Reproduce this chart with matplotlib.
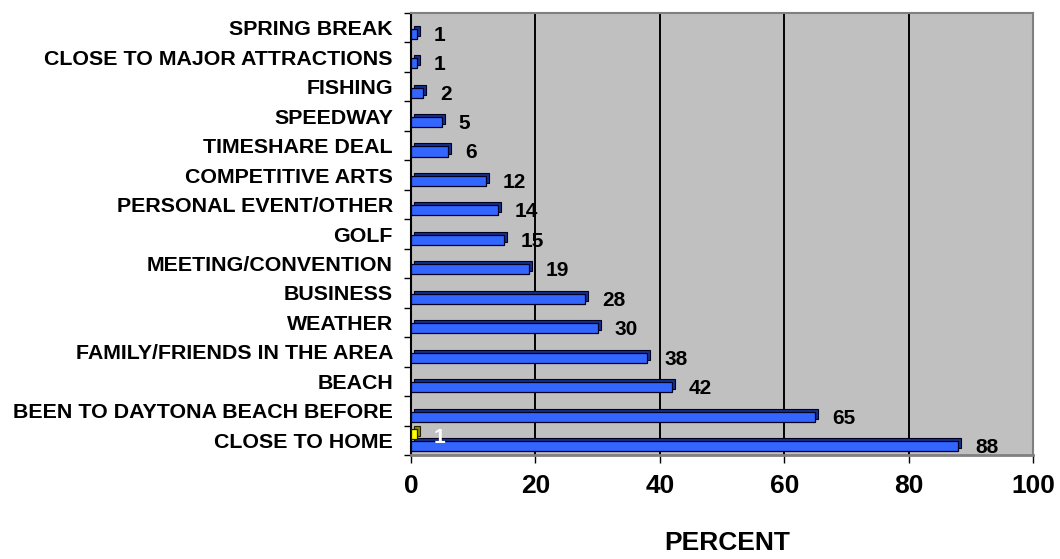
import matplotlib
matplotlib.use("Agg")
import matplotlib.pyplot as plt
from matplotlib.transforms import offset_copy

categories = ["SPRING BREAK", "CLOSE TO MAJOR ATTRACTIONS", "FISHING", "SPEEDWAY",
              "TIMESHARE DEAL", "COMPETITIVE ARTS", "PERSONAL EVENT/OTHER", "GOLF",
              "MEETING/CONVENTION", "BUSINESS", "WEATHER", "FAMILY/FRIENDS IN THE AREA",
              "BEACH", "BEEN TO DAYTONA BEACH BEFORE", "CLOSE TO HOME"]
blue_values = [1, 1, 2, 5, 6, 12, 14, 15, 19, 28, 30, 38, 42, 65, 88]
yellow_values = [0, 0, 0, 0, 0, 0, 0, 0, 0, 0, 0, 0, 0, 0, 1]
xticks = [0, 20, 40, 60, 80, 100]

plt.rcParams['font.family'] = ['Liberation Sans', 'DejaVu Sans']
plt.rcParams['font.weight'] = 'bold'

fig = plt.figure(figsize=(10.6, 5.59), dpi=100)
W, H = 1060, 559
ax = fig.add_axes([411 / W, 1 - 455 / H, (1033 - 411) / W, (455 - 13) / H])
ax.set_facecolor('#C0C0C0')

n = len(categories)
ypos = list(range(n))
bh = 0.34
off = 0.2

# vertical gridlines
for t in xticks[1:-1]:
    ax.axvline(t, color='black', lw=1.4, zorder=1)

shadow_tr = offset_copy(ax.transData, fig=fig, x=3, y=3, units='dots')

# blue series (lower in each slot)
yb = [y + off for y in ypos]
ax.barh(yb, blue_values, height=bh, color='#16308a', edgecolor='#000020',
        lw=0.8, transform=shadow_tr, zorder=2)
ax.barh(yb, blue_values, height=bh, color='#3366FF', edgecolor='#000020',
        lw=0.9, zorder=3)

# yellow series (upper in each slot)
yy = [y - off for y in ypos]
yv_idx = [i for i, v in enumerate(yellow_values) if v > 0]
ax.barh([yy[i] for i in yv_idx], [yellow_values[i] for i in yv_idx], height=bh,
        color='#8a8a00', edgecolor='#202000', lw=0.8, transform=shadow_tr, zorder=2)
ax.barh([yy[i] for i in yv_idx], [yellow_values[i] for i in yv_idx], height=bh,
        color='#FFFF00', edgecolor='#202000', lw=0.9, zorder=3)

for y, v in zip(yb, blue_values):
    ax.text(v + 2.7, y + 0.05, str(v), ha='left', va='center', fontsize=15,
            fontweight='bold', color='black', zorder=5)
for i in yv_idx:
    ax.text(yellow_values[i] + 2.7, yy[i] + 0.1, str(yellow_values[i]), ha='left',
            va='center', fontsize=15, fontweight='bold', color='white', zorder=5)

ax.set_xlim(0, 100)
ax.set_ylim(n - 0.5, -0.5)
ax.set_xticks(xticks)
ax.set_xticklabels([str(t) for t in xticks], fontsize=19, fontweight='bold')
ax.set_yticks(ypos)
ax.set_yticklabels(categories, fontsize=15.4, fontweight='bold')
ax.set_yticks([y - 0.5 for y in range(n + 1)], minor=True)
ax.tick_params(axis='y', which='major', length=0, pad=13)
ax.tick_params(axis='y', which='minor', length=5, width=1, direction='out')
ax.tick_params(axis='x', length=6, width=1, direction='out', pad=8)

for s in ['top', 'right']:
    ax.spines[s].set_color('#808080')
    ax.spines[s].set_linewidth(1.5)
ax.spines['left'].set_color('black')
ax.spines['left'].set_linewidth(1.5)
ax.spines['bottom'].set_color('#808080')
ax.spines['bottom'].set_linewidth(2)

fig.text(727 / W, 1 - 543 / H, 'PERCENT', ha='center', va='center',
         fontsize=19, fontweight='bold')

fig.savefig('out.png', dpi=100)
